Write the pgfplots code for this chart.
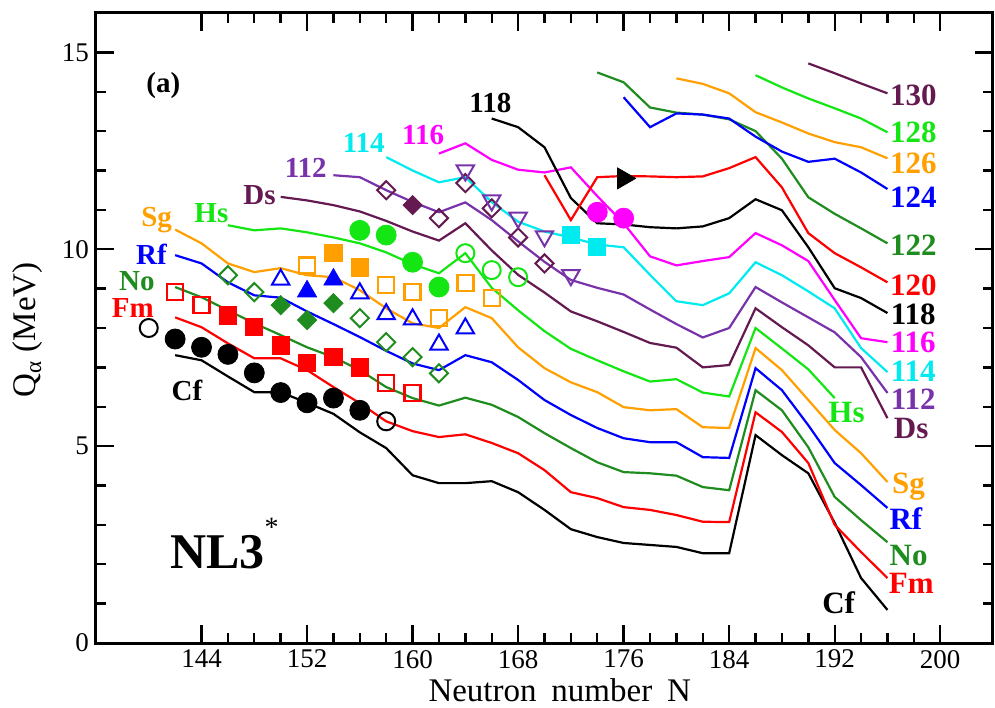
\documentclass[border=0pt]{standalone}
\usepackage{pgfplots}
\pgfplotsset{compat=1.18}
\usepackage{fontspec}
\setmainfont{Liberation Serif}
\definecolor{cNo}{RGB}{30,140,30}
\definecolor{cHs}{RGB}{20,230,20}
\definecolor{cSg}{RGB}{255,160,0}
\definecolor{cDs}{RGB}{100,25,80}
\definecolor{cP}{RGB}{120,50,170}
\definecolor{cCy}{RGB}{0,235,240}
\definecolor{cMg}{RGB}{255,0,255}
\tikzset{lab/.style={inner sep=0pt}}
\pgfplotsset{
  th/.style={line width=1.1pt, no markers},
  fc/.style={only marks, mark=*, mark size=5pt},
  oc/.style={only marks, mark=o, mark size=4.5pt, mark options={line width=1pt}},
  fs/.style={only marks, mark=square*, mark size=4.3pt},
  os/.style={only marks, mark=square, mark size=4pt, mark options={line width=1.2pt}},
  fd/.style={only marks, mark=square*, mark size=3.4pt, mark options={rotate=45}},
  od/.style={only marks, mark=square, mark size=3.2pt, mark options={rotate=45, line width=1pt}},
  ft/.style={only marks, mark=triangle*, mark size=5.5pt},
  ot/.style={only marks, mark=triangle, mark size=5pt, mark options={line width=1pt}},
}
\newcommand{\lf}{\fontsize{14.5}{14.5}\selectfont\bfseries}
\newcommand{\rf}{\fontsize{15.5}{15.5}\selectfont\bfseries}
\begin{document}
\begin{tikzpicture}
\path[use as bounding box] (-48pt,-32pt) rectangle (449.5pt,321.5pt);
\begin{axis}[
  at={(0,0)}, anchor=south west,
  width=448.5pt, height=315pt, scale only axis,
  xmin=136, xmax=204, ymin=0, ymax=16,
  xtick={144,152,...,200}, minor x tick num=3,
  ytick={0,5,10,15}, minor y tick num=4,
  xtick pos=both, ytick pos=both,
  xticklabel pos=lower, yticklabel pos=left,
  tick align=inside,
  major tick length=9pt, minor tick length=5pt,
  every tick/.style={line width=1.2pt, black},
  axis line style={line width=1.5pt},
  tick label style={font=\fontsize{13.5}{14}\selectfont},
  /pgf/number format/assume math mode=true,
  /pgf/number format/1000 sep={},
  every axis x label/.style={at={(axis description cs:0.517,-0.0746)}, anchor=center},
  every axis y label/.style={at={(axis description cs:-0.0758,0.497)}, rotate=90, anchor=center},
  label style={font=\fontsize{16.5}{17}\selectfont},
  xlabel={Neutron\hspace{0.45em}number\hspace{0.45em}N},
  ylabel={Q\textsubscript{α} (MeV)},
]
% ---- theory lines ----
\addplot[th, black] coordinates {(142,7.31)(144,7.18)(146,6.77)(148,6.37)(150,6.37)(152,6.10)(154,5.82)(156,5.35)(158,4.95)(160,4.26)(162,4.06)(164,4.06)(166,4.11)(168,3.83)(170,3.38)(172,2.89)(174,2.69)(176,2.54)(178,2.49)(180,2.44)(182,2.28)(184,2.28)(186,5.28)(188,4.77)(190,4.31)(192,3.05)(194,1.65)(196,0.84)};
\addplot[th, red] coordinates {(142,8.27)(144,8.02)(146,7.61)(148,7.23)(150,7.23)(152,6.93)(154,6.50)(156,6.09)(158,5.63)(160,5.38)(162,5.23)(164,5.30)(166,5.08)(168,4.82)(170,4.39)(172,3.83)(174,3.68)(176,3.45)(178,3.38)(180,3.25)(182,3.08)(184,3.07)(186,5.86)(188,5.36)(190,4.57)(192,3.00)(194,2.31)(196,1.65)};
\addplot[th, cNo] coordinates {(142,9.04)(144,8.78)(146,8.45)(148,8.12)(150,7.82)(152,7.51)(154,7.26)(156,6.93)(158,6.50)(160,6.22)(162,6.03)(164,6.23)(166,6.05)(168,5.74)(170,5.33)(172,4.95)(174,4.59)(176,4.34)(178,4.31)(180,4.25)(182,3.96)(184,3.88)(186,6.42)(188,5.91)(190,4.97)(192,3.71)(194,3.12)(196,2.56)};
\addplot[th, blue] coordinates {(142,9.85)(144,9.64)(146,9.16)(148,8.83)(150,8.77)(152,8.42)(154,8.10)(156,7.77)(158,7.42)(160,7.10)(162,6.93)(164,7.31)(166,7.13)(168,6.68)(170,6.17)(172,5.79)(174,5.46)(176,5.20)(178,5.10)(180,5.10)(182,4.72)(184,4.70)(186,6.98)(188,6.42)(190,5.53)(192,4.57)(194,4.01)(196,3.43)};
\addplot[th, cSg] coordinates {(142,10.50)(144,10.15)(146,9.64)(148,9.42)(150,9.52)(152,9.34)(154,9.29)(156,8.96)(158,8.50)(160,8.12)(162,8.00)(164,8.53)(166,8.25)(168,7.51)(170,6.98)(172,6.62)(174,6.37)(176,5.99)(178,5.91)(180,5.94)(182,5.48)(184,5.46)(186,7.49)(188,6.93)(190,6.17)(192,5.41)(194,4.82)(196,4.09)};
\addplot[th, cHs] coordinates {(146,10.61)(148,10.48)(150,10.53)(152,10.43)(154,10.30)(156,10.15)(158,9.92)(160,9.62)(162,9.39)(164,9.90)(166,9.02)(168,8.45)(170,7.92)(172,7.47)(174,7.18)(176,6.90)(178,6.64)(180,6.70)(182,6.36)(184,6.26)(186,8.00)(188,7.48)(190,6.95)(192,6.22)};
\addplot[th, cDs] coordinates {(150,11.33)(152,11.24)(154,11.12)(156,10.96)(158,10.72)(160,10.45)(162,10.22)(164,10.66)(166,9.97)(168,9.35)(170,8.90)(172,8.42)(174,8.17)(176,7.90)(178,7.62)(180,7.50)(182,7.00)(184,7.06)(186,8.50)(188,8.02)(190,7.56)(192,7.00)(194,7.00)(196,5.71)};
\addplot[th, cP] coordinates {(154,11.88)(156,11.83)(158,11.50)(160,11.20)(162,10.94)(164,11.19)(166,10.74)(168,10.20)(170,9.68)(172,9.22)(174,9.02)(176,8.85)(178,8.47)(180,8.10)(182,7.76)(184,8.00)(186,9.04)(188,8.65)(190,8.27)(192,7.89)(194,7.26)(196,6.35)};
\addplot[th, cCy] coordinates {(158,12.34)(160,12.00)(162,11.70)(164,11.83)(166,11.20)(168,10.70)(170,10.45)(172,10.30)(174,10.12)(176,10.05)(178,9.35)(180,8.68)(182,8.58)(184,8.88)(186,9.67)(188,9.34)(190,8.93)(192,8.50)(194,7.49)(196,6.88)};
\addplot[th, cMg] coordinates {(162,12.43)(164,12.69)(166,12.27)(168,12.02)(170,11.95)(172,12.08)(174,11.35)(176,10.66)(178,9.82)(180,9.59)(182,9.70)(184,9.80)(186,10.41)(188,10.10)(190,9.70)(192,8.71)(194,7.74)(196,7.64)};
\addplot[th, black] coordinates {(166,13.32)(168,13.10)(170,12.59)(172,11.30)(174,10.66)(176,10.63)(178,10.56)(180,10.53)(182,10.58)(184,10.79)(186,11.27)(188,10.99)(190,10.05)(192,9.01)(194,8.76)(196,8.38)};
\addplot[th, red] coordinates {(170,11.88)(172,10.74)(174,11.83)(176,11.86)(178,11.85)(180,11.83)(182,11.85)(184,12.06)(186,12.34)(188,11.57)(190,10.41)(192,9.90)(194,9.54)(196,9.16)};
\addplot[th, cNo] coordinates {(174,14.49)(176,14.24)(178,13.60)(180,13.47)(182,13.42)(184,13.30)(186,13.00)(188,12.30)(190,11.32)(192,10.90)(194,10.53)(196,10.15)};
\addplot[th, blue] coordinates {(176,13.86)(178,13.10)(180,13.45)(182,13.42)(184,13.32)(186,12.86)(188,12.48)(190,12.22)(192,12.30)(194,11.95)(196,11.53)};
\addplot[th, cSg] coordinates {(180,14.34)(182,14.20)(184,13.96)(186,13.48)(188,13.22)(190,12.94)(192,12.72)(194,12.59)(196,12.31)};
\addplot[th, cHs] coordinates {(186,14.42)(188,14.11)(190,13.83)(192,13.58)(194,13.32)(196,12.97)};
\addplot[th, cDs] coordinates {(190,14.72)(192,14.47)(194,14.21)(196,13.96)};
% ---- experimental points ----
\addplot[fc, black] coordinates {(142,7.72)(144,7.51)(146,7.33)(148,6.86)(150,6.36)(152,6.10)(154,6.22)(156,5.91)};
\addplot[oc, black] coordinates {(140,8.00)(158,5.63)};
\addplot[fs, red] coordinates {(146,8.32)(148,8.02)(150,7.56)(152,7.11)(154,7.26)(156,7.00)};
\addplot[os, red] coordinates {(142,8.91)(144,8.58)(158,6.60)(160,6.35)};
\addplot[fd, cNo] coordinates {(150,8.58)(152,8.20)(154,8.63)};
\addplot[od, cNo] coordinates {(146,9.34)(148,8.91)(156,8.25)(158,7.64)(160,7.26)(162,6.85)};
\addplot[ft, blue] coordinates {(152,8.93)(154,9.23)};
\addplot[ot, blue] coordinates {(150,9.23)(156,8.88)(158,8.35)(160,8.22)(162,7.58)(164,7.99)};
\addplot[fs, cSg] coordinates {(154,9.90)(156,9.54)};
\addplot[os, cSg] coordinates {(152,9.59)(158,9.09)(160,8.91)(162,8.25)(164,9.14)(166,8.76)};
\addplot[fc, cHs] coordinates {(156,10.48)(158,10.36)(160,9.67)(162,9.04)};
\addplot[oc, cHs] coordinates {(164,9.90)(166,9.47)(168,9.29)};
\addplot[fd, cDs] coordinates {(160,11.12)};
\addplot[od, cDs] coordinates {(158,11.50)(162,10.79)(164,11.68)(166,11.04)(168,10.30)(170,9.64)};
\addplot[only marks, mark=triangle, mark size=5pt, mark options={rotate=180, line width=1pt}, cP] coordinates {(164,12.00)(166,11.24)(168,10.80)(170,10.33)(172,9.34)};
\addplot[fs, cCy] coordinates {(172,10.36)(174,10.05)};
\addplot[fc, cMg] coordinates {(174,10.94)(176,10.79)};
\addplot[only marks, mark=triangle*, mark size=6pt, mark options={rotate=-90}, black] coordinates {(176,11.80)};
% ---- labels ----
\node[lab, font=\lf, black] at (axis cs:141.1,14.16) {(a)};
\node[lab, font=\lf, cSg] at (axis cs:140.6,10.74) {Sg};
\node[lab, font=\lf, cHs] at (axis cs:144.75,10.91) {Hs};
\node[lab, font=\lf, cDs] at (axis cs:148.4,11.37) {Ds};
\node[lab, font=\lf, cP] at (axis cs:151.9,12.06) {112};
\node[lab, font=\lf, cCy] at (axis cs:156.3,12.69) {114};
\node[lab, font=\lf, cMg] at (axis cs:160.8,12.89) {116};
\node[lab, font=\lf, black] at (axis cs:165.9,13.71) {118};
\node[lab, font=\lf, blue] at (axis cs:140.2,9.88) {Rf};
\node[lab, font=\lf, cNo] at (axis cs:139.1,9.20) {No};
\node[lab, font=\lf, red] at (axis cs:138.8,8.52) {Fm};
\node[lab, font=\lf, black] at (axis cs:142.9,6.42) {Cf};
\node[lab, font=\rf, cDs] at (axis cs:197.96,13.91) {130};
\node[lab, font=\rf, cHs] at (axis cs:197.96,12.97) {128};
\node[lab, font=\rf, cSg] at (axis cs:197.96,12.18) {126};
\node[lab, font=\rf, blue] at (axis cs:197.96,11.32) {124};
\node[lab, font=\rf, cNo] at (axis cs:197.96,10.10) {122};
\node[lab, font=\rf, red] at (axis cs:197.96,9.09) {120};
\node[lab, font=\rf, black] at (axis cs:197.96,8.35) {118};
\node[lab, font=\rf, cMg] at (axis cs:197.96,7.64) {116};
\node[lab, font=\rf, cCy] at (axis cs:197.96,6.91) {114};
\node[lab, font=\rf, cP] at (axis cs:197.96,6.19) {112};
\node[lab, font=\rf, cDs] at (axis cs:197.8,5.45) {Ds};
\node[lab, font=\rf, cHs] at (axis cs:192.9,5.86) {Hs};
\node[lab, font=\rf, cSg] at (axis cs:197.6,3.96) {Sg};
\node[lab, font=\rf, blue] at (axis cs:197.4,3.17) {Rf};
\node[lab, font=\rf, cNo] at (axis cs:197.6,2.23) {No};
\node[lab, font=\rf, red] at (axis cs:197.8,1.52) {Fm};
\node[lab, font=\rf, black] at (axis cs:192.3,1.02) {Cf};
\node[anchor=base west, inner sep=0pt] at (axis cs:141.6,1.9) {{\fontsize{25}{25}\selectfont\bfseries NL3}\raisebox{16pt}{\fontsize{14}{14}\selectfont *}};
\end{axis}
\end{tikzpicture}
\end{document}
